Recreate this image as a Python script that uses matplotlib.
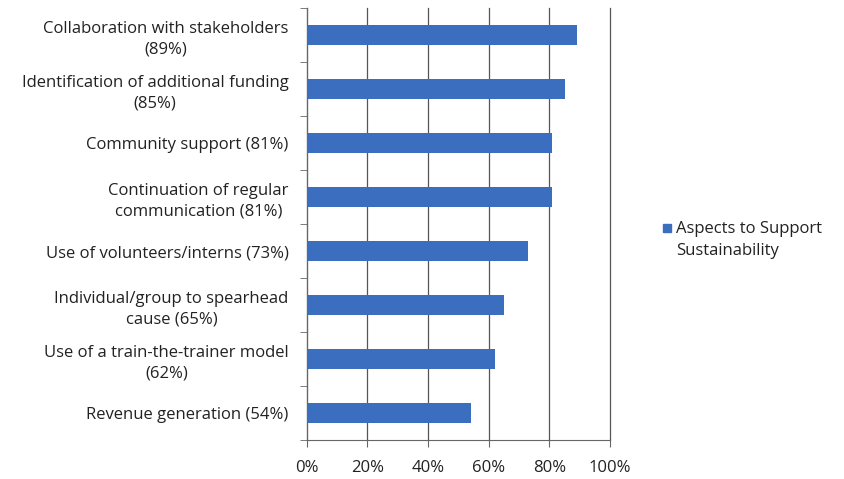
import matplotlib.pyplot as plt
from matplotlib.patches import Rectangle

labels = [
    "Collaboration with stakeholders\n(89%)",
    "Identification of additional funding\n(85%)",
    "Community support (81%)",
    "Continuation of regular\ncommunication (81%)",
    "Use of volunteers/interns (73%)",
    "Individual/group to spearhead\ncause (65%)",
    "Use of a train-the-trainer model\n(62%)",
    "Revenue generation (54%)",
]
values = [89, 85, 81, 81, 73, 65, 62, 54]
xticks = [0, 20, 40, 60, 80, 100]
series_name = "Aspects to Support\nSustainability"

bar_color = '#3C6EC0'
font = 'Open Sans'
fs = 12

fig = plt.figure(figsize=(8.45, 4.79), dpi=100)
ax = fig.add_axes([0.363, 0.081, 0.359, 0.902])

n = len(values)
ypos = [n - 1 - i for i in range(n)]
ax.barh(ypos, values, height=0.37, color=bar_color, zorder=3)

ax.set_xlim(0, 100)
ax.set_ylim(-0.5, n - 0.5)
ax.set_xticks(xticks)
ax.set_xticklabels([f"{v}%" for v in xticks], fontsize=fs, family=font, color='#222222')
ax.set_yticks(ypos)
ax.set_yticklabels(labels, fontsize=fs, family=font, color='#222222',
                   multialignment='center', linespacing=1.4)
ax.set_yticks([i - 0.5 for i in range(n + 1)], minor=True)
ax.tick_params(axis='y', which='major', length=0, pad=13)
ax.tick_params(axis='y', which='minor', length=5, color='#666666')
ax.tick_params(axis='x', length=5, color='#666666', pad=9)

ax.grid(axis='x', color='#555555', linewidth=0.9, zorder=0)
for gl in ax.get_xgridlines():
    gl.set_clip_on(False)
for s in ['top', 'right']:
    ax.spines[s].set_visible(False)
ax.spines['left'].set_color('#666666')
ax.spines['bottom'].set_color('#666666')

# legend
fig.patches.append(Rectangle((663 / 845, 1 - 232 / 479), 8 / 845, 8 / 479,
                             transform=fig.transFigure, color=bar_color))
fig.text(676 / 845, 1 - 240 / 479, series_name, fontsize=fs, family=font,
         color='#222222', va='center', ha='left', linespacing=1.5)

fig.savefig('out.png', dpi=100)
